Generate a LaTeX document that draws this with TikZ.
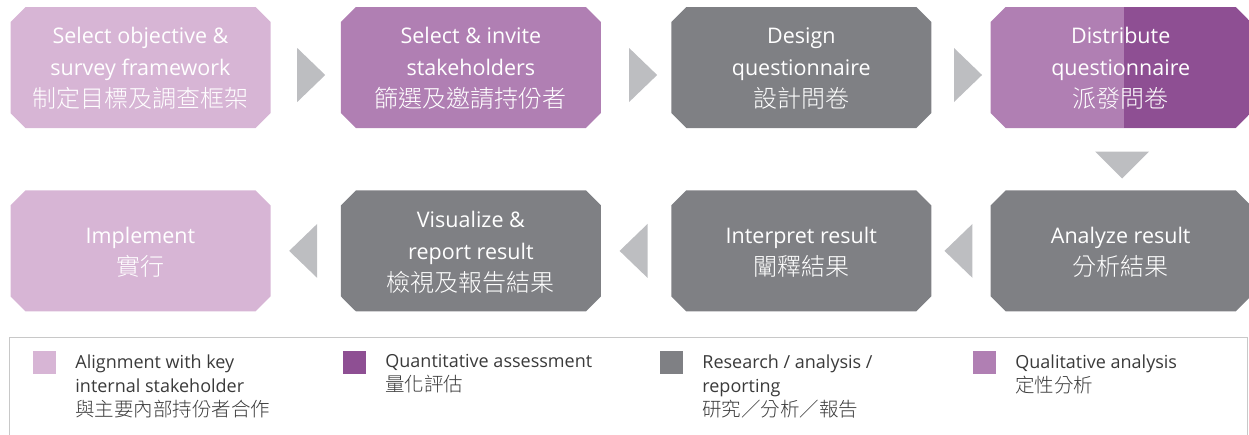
\documentclass[tikz,border=0pt]{standalone}
\usepackage{fontspec}
\setmainfont{Open Sans}
\newfontfamily\cjk{Noto Sans CJK TC Light}
\usetikzlibrary{positioning,shapes.misc,shapes.geometric,calc}

\definecolor{alignpink}{HTML}{D7B5D5}
\definecolor{qualpurple}{HTML}{B07FB3}
\definecolor{quantpurple}{HTML}{8E4F93}
\definecolor{researchgrey}{HTML}{7F8084}
\definecolor{arrowgrey}{HTML}{BDBEC1}
\definecolor{legendline}{HTML}{C8C8C8}
\definecolor{legendtext}{HTML}{3A3A3A}

% chinese line inside a stage box / legend entry
\newcommand{\zhbox}[1]{{\cjk\fontsize{24pt}{32pt}\selectfont #1}}
\newcommand{\zhkey}[1]{{\cjk\fontsize{19.5pt}{24pt}\selectfont #1}}

\begin{document}
\begin{tikzpicture}[x=1pt,y=-1pt,node distance=62pt and 70pt,
  stage/.style={chamfered rectangle,chamfered rectangle xsep=7.5pt,chamfered rectangle ysep=7.5pt,
    inner sep=0pt,minimum width=260pt,minimum height=121pt,align=center,text=white,
    font=\fontsize{21.5pt}{32pt}\selectfont,text depth=-5pt},
  tri/.style={isosceles triangle,isosceles triangle stretches,fill=arrowgrey,inner sep=0pt},
  key/.style={minimum size=23pt,inner sep=0pt},
  keytext/.style={anchor=north west,align=left,inner sep=0pt,text=legendtext,
    font=\fontsize{18pt}{24pt}\selectfont}]
  \useasboundingbox (0,0) rectangle (1249,434);

  % top row
  \node[stage,fill=alignpink] (b1) at (140.5,67.5) {Select objective \&\\survey framework\\\zhbox{制定目標及調查框架}};
  \node[stage,fill=qualpurple,right=of b1] (b2) {Select \& invite\\stakeholders\\\zhbox{篩選及邀請持份者}};
  \node[stage,fill=researchgrey,right=of b2] (b3) {Design\\questionnaire\\\zhbox{設計問卷}};
  \node[stage,fill=qualpurple,right=59pt of b3,
    path picture={\fill[quantpurple] ([xshift=3.5pt]path picture bounding box.north) rectangle (path picture bounding box.south east);}]
    (b4) {Distribute\\questionnaire\\\zhbox{派發問卷}};

  % bottom row, running back to the left
  \node[stage,fill=researchgrey,below=of b4] (b8) {Analyze result\\\zhbox{分析結果}};
  \node[stage,fill=researchgrey,below=of b3] (b7) {Interpret result\\\zhbox{闡釋結果}};
  \node[stage,fill=researchgrey,below=of b2] (b6) {Visualize \&\\report result\\\zhbox{檢視及報告結果}};
  \node[stage,fill=alignpink,below=of b1] (b5) {Implement\\\zhbox{實行}};

  % arrow heads between the stages
  \node[tri,minimum width=54pt,minimum height=28pt,xshift=3pt,yshift=-7.5pt] (a12) at ($(b1.east)!.5!(b2.west)$) {};
  \node[tri,minimum width=54pt,minimum height=28pt,xshift=4.5pt,yshift=-7.5pt] (a23) at ($(b2.east)!.5!(b3.west)$) {};
  \node[tri,minimum width=54pt,minimum height=28pt,xshift=4.5pt,yshift=-7.5pt] (a34) at ($(b3.east)!.5!(b4.west)$) {};
  \node[tri,shape border rotate=-90,minimum width=54pt,minimum height=27pt,xshift=1.5pt,yshift=-3.5pt] (a48) at ($(b4.south)!.5!(b8.north)$) {};
  \node[tri,shape border rotate=180,minimum width=54pt,minimum height=28pt] (a87) at ($(b8.west)!.5!(b7.east)$) {};
  \node[tri,shape border rotate=180,minimum width=54pt,minimum height=28pt] (a76) at ($(b7.west)!.5!(b6.east)$) {};
  \node[tri,shape border rotate=180,minimum width=54pt,minimum height=28pt] (a65) at ($(b6.west)!.5!(b5.east)$) {};

  % legend
  \draw[legendline,line width=1pt] (9,444) |- (1247,337) -- (1247,444);
  \node[key,fill=alignpink] (k1) at (44.5,362.5) {};
  \node[keytext,right=19pt of k1.north east,anchor=north west,yshift=-3.5pt] (t1) {Alignment with key\\internal stakeholder\\\zhkey{與主要內部持份者合作}};
  \node[key,fill=quantpurple] (k2) at (354.5,362.5) {};
  \node[keytext,right=19pt of k2.north east,anchor=north west,yshift=-3.5pt] (t2) {Quantitative assessment\\\zhkey{量化評估}};
  \node[key,fill=researchgrey] (k3) at (671.5,362.5) {};
  \node[keytext,right=19pt of k3.north east,anchor=north west,yshift=-3.5pt] (t3) {Research / analysis /\\reporting\\\zhkey{研究／分析／報告}};
  \node[key,fill=qualpurple] (k4) at (984.5,362.5) {};
  \node[keytext,right=19pt of k4.north east,anchor=north west,yshift=-3.5pt] (t4) {Qualitative analysis\\\zhkey{定性分析}};
\end{tikzpicture}
\end{document}
